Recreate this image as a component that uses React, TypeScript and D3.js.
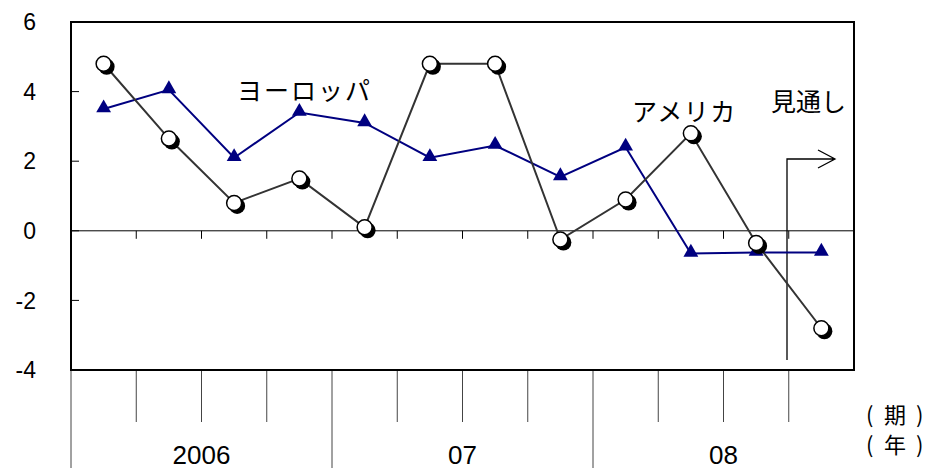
import React from "react";
import * as d3 from "d3";

const periods = ["1", "2", "3", "4", "1", "2", "3", "4", "1", "2", "3", "4"];
const years = ["2006", "07", "08"];
const europe = [3.5, 4.05, 2.1, 3.4, 3.1, 2.1, 2.45, 1.55, 2.4, -0.65, -0.62, -0.62];
const america = [4.8, 2.65, 0.8, 1.5, 0.1, 4.8, 4.8, -0.25, 0.9, 2.8, -0.35, -2.8];
const yTicks = [6, 4, 2, 0, -2, -4];
const unitLabels = ["期", "年"];

const W = 932;
const H = 468;
const L = 71;
const R = 854;
const T = 22;
const B = 370;

const numFont = "'Liberation Sans', Arial, sans-serif";
const jpFont = "'Noto Sans CJK JP', 'Noto Sans', sans-serif";

export default function App() {
  const idx = periods.map((_, i) => i);
  const x = d3.scaleBand<number>().domain(idx).range([L, R]).padding(0);
  const y = d3.scaleLinear().domain([-4, 6]).range([B, T]);
  const cx = (i: number) => (x(i) as number) + x.bandwidth() / 2;

  const line = d3
    .line<number>()
    .x((_, i) => cx(i))
    .y((d) => y(d));

  const tri = d3.symbol().type(d3.symbolTriangle).size(95)();

  const boundaries = d3.range(0, periods.length + 1).map((i) =>
    i < periods.length ? (x(i) as number) : R
  );

  return (
    <svg
      width={W}
      height={H}
      style={{ position: "absolute", left: 0, top: 0, background: "#fff" }}
    >
      <rect x={0} y={0} width={W} height={H} fill="#fff" />
      {/* bottom category lines */}
      {boundaries.slice(0, periods.length).map((bx, i) => (
        <line
          key={"b" + i}
          x1={bx}
          x2={bx}
          y1={B}
          y2={i % 4 === 0 ? H : 422}
          stroke="#444"
          strokeWidth={1}
        />
      ))}
      {/* zero line */}
      <line x1={L} x2={R} y1={y(0)} y2={y(0)} stroke="#000" strokeWidth={1} />
      {boundaries.slice(1, periods.length).map((bx, i) => (
        <line
          key={"z" + i}
          x1={bx}
          x2={bx}
          y1={y(0)}
          y2={y(0) + 8}
          stroke="#000"
          strokeWidth={1}
        />
      ))}
      {/* y ticks */}
      {yTicks.map((t) => (
        <g key={"yt" + t}>
          <line x1={L} x2={L + 8} y1={y(t)} y2={y(t)} stroke="#000" strokeWidth={1} />
          <text
            x={36}
            y={y(t)}
            dy="0.36em"
            textAnchor="end"
            fontFamily={numFont}
            fontSize={23}
            fill="#000"
          >
            {t}
          </text>
        </g>
      ))}
      {/* year labels */}
      {years.map((yr, k) => {
        const x0 = boundaries[k * 4];
        const x1 = boundaries[Math.min(k * 4 + 4, periods.length)];
        return (
          <text
            key={yr}
            x={(x0 + x1) / 2}
            y={464}
            textAnchor="middle"
            fontFamily={numFont}
            fontSize={26}
            fill="#000"
          >
            {yr}
          </text>
        );
      })}
      {unitLabels.map((u, k) => (
        <g key={u} fontFamily={jpFont} fontSize={22} fill="#000">
          <text x={866} y={423 + k * 30}>(</text>
          <text x={895} y={423 + k * 30} textAnchor="middle">{u}</text>
          <text x={916} y={423 + k * 30}>)</text>
        </g>
      ))}

      {/* forecast arrow */}
      <path
        d={`M787,360 L787,159 L835,159 M818,150 L835,159 L818,168`}
        fill="none"
        stroke="#000"
        strokeWidth={1.3}
      />

      {/* Europe */}
      <path d={line(europe) || ""} fill="none" stroke="#000080" strokeWidth={2} />
      {europe.map((v, i) => (
        <path
          key={"e" + i}
          d={tri || ""}
          transform={`translate(${cx(i)},${y(v) - 1})`}
          fill="#000080"
        />
      ))}

      {/* America */}
      <path d={line(america) || ""} fill="none" stroke="#333" strokeWidth={2} />
      {america.map((v, i) => (
        <g key={"a" + i}>
          <circle cx={cx(i) + 3} cy={y(v) + 3} r={8} fill="#000" />
          <circle cx={cx(i)} cy={y(v)} r={7.5} fill="#fff" stroke="#000" strokeWidth={1.5} />
        </g>
      ))}

      {/* plot border */}
      <rect
        x={L}
        y={T}
        width={R - L}
        height={B - T}
        fill="none"
        stroke="#000"
        strokeWidth={2}
      />

      {/* labels */}
      <text x={237} y={100} fontFamily={jpFont} fontSize={25} letterSpacing={2} fill="#000">
        ヨーロッパ
      </text>
      <text x={632} y={121} fontFamily={jpFont} fontSize={25} letterSpacing={1.5} fill="#000">
        アメリカ
      </text>
      <text x={771} y={111} fontFamily={jpFont} fontSize={25} fill="#000">
        見通し
      </text>
    </svg>
  );
}
